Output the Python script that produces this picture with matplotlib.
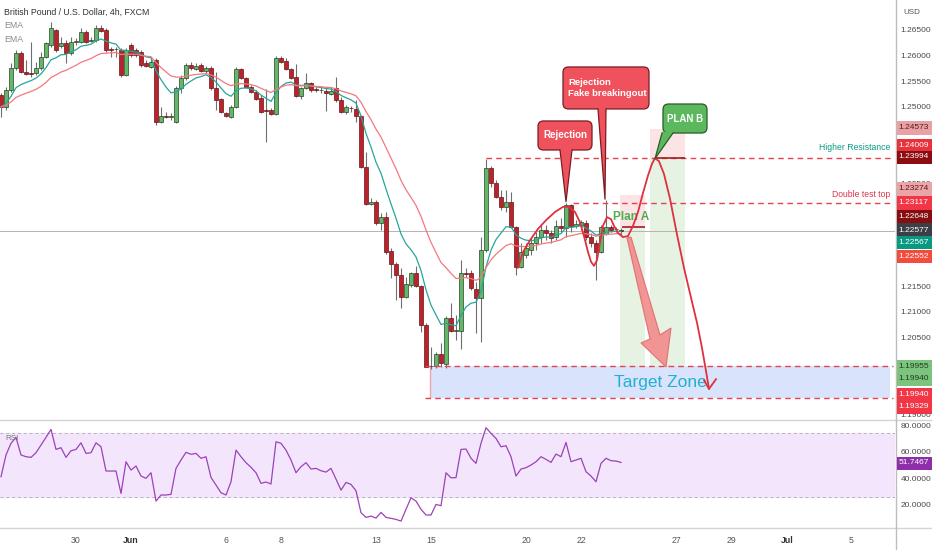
import matplotlib
matplotlib.use('Agg')
import matplotlib.pyplot as plt
import numpy as np
import pandas as pd
from matplotlib.patches import FancyBboxPatch, Polygon, Rectangle
from matplotlib.lines import Line2D

plt.rcParams['font.family'] = ['Liberation Sans', 'DejaVu Sans']

# ---- data (GBPUSD 4h) ----
opens = [
    1.2523, 1.2500, 1.2533, 1.2576, 1.2605, 1.2568, 1.2566, 1.2566, 1.2576, 1.2597,
    1.2621, 1.2650, 1.2619, 1.2625, 1.2605, 1.2627, 1.2627, 1.2646, 1.2628, 1.2630,
    1.2654, 1.2650, 1.2613, 1.2612, 1.2611, 1.2562, 1.2621, 1.2611, 1.2607, 1.2586,
    1.2578, 1.2591, 1.2471, 1.2482, 1.2481, 1.2471, 1.2537, 1.2556, 1.2582, 1.2574,
    1.2582, 1.2570, 1.2576, 1.2537, 1.2515, 1.2488, 1.2480, 1.2500, 1.2574, 1.2556,
    1.2539, 1.2529, 1.2517, 1.2494, 1.2494, 1.2486, 1.2595, 1.2590, 1.2574, 1.2558,
    1.2521, 1.2537, 1.2547, 1.2535, 1.2532, 1.2531, 1.2525, 1.2537, 1.2513, 1.2490,
    1.2498, 1.2496, 1.2482, 1.2383, 1.2311, 1.2315, 1.2274, 1.2285, 1.2219, 1.2194,
    1.2172, 1.2129, 1.2153, 1.2176, 1.2151, 1.2075, 1.1995, 1.1995, 1.2018, 1.1999,
    1.2088, 1.2063, 1.2063, 1.2176, 1.2176, 1.2145, 1.2127, 1.2221, 1.2381, 1.2352,
    1.2324, 1.2305, 1.2315, 1.2266, 1.2188, 1.2211, 1.2221, 1.2235, 1.2246, 1.2260,
    1.2254, 1.2246, 1.2268, 1.2264, 1.2309, 1.2268, 1.2270, 1.2274, 1.2246, 1.2235,
    1.2217, 1.2252, 1.2266, 1.2262, 1.2260]
highs = [
    1.2527, 1.2539, 1.2586, 1.2611, 1.2609, 1.2591, 1.2627, 1.2588, 1.2607, 1.2627,
    1.2666, 1.2652, 1.2636, 1.2630, 1.2636, 1.2634, 1.2654, 1.2650, 1.2636, 1.2660,
    1.2660, 1.2654, 1.2617, 1.2617, 1.2615, 1.2615, 1.2625, 1.2615, 1.2611, 1.2591,
    1.2597, 1.2595, 1.2500, 1.2490, 1.2488, 1.2541, 1.2562, 1.2586, 1.2588, 1.2586,
    1.2586, 1.2580, 1.2580, 1.2568, 1.2517, 1.2490, 1.2504, 1.2578, 1.2576, 1.2558,
    1.2543, 1.2533, 1.2523, 1.2535, 1.2498, 1.2599, 1.2599, 1.2595, 1.2576, 1.2584,
    1.2539, 1.2566, 1.2548, 1.2539, 1.2539, 1.2539, 1.2539, 1.2558, 1.2519, 1.2504,
    1.2502, 1.2513, 1.2484, 1.2412, 1.2322, 1.2318, 1.2293, 1.2295, 1.2225, 1.2198,
    1.2186, 1.2168, 1.2178, 1.2190, 1.2153, 1.2079, 1.2032, 1.2022, 1.2040, 1.2092,
    1.2118, 1.2094, 1.2201, 1.2186, 1.2182, 1.2159, 1.2246, 1.2399, 1.2385, 1.2358,
    1.2338, 1.2338, 1.2334, 1.2268, 1.2235, 1.2235, 1.2244, 1.2256, 1.2270, 1.2270,
    1.2260, 1.2279, 1.2283, 1.2312, 1.2310, 1.2279, 1.2279, 1.2279, 1.2254, 1.2240,
    1.2270, 1.2318, 1.2270, 1.2266, 1.2264]
lows = [
    1.2480, 1.2494, 1.2529, 1.2572, 1.2566, 1.2562, 1.2558, 1.2562, 1.2572, 1.2595,
    1.2617, 1.2607, 1.2615, 1.2586, 1.2601, 1.2621, 1.2625, 1.2625, 1.2627, 1.2627,
    1.2646, 1.2607, 1.2597, 1.2597, 1.2558, 1.2560, 1.2597, 1.2597, 1.2578, 1.2578,
    1.2576, 1.2465, 1.2469, 1.2478, 1.2474, 1.2469, 1.2527, 1.2552, 1.2572, 1.2572,
    1.2568, 1.2566, 1.2533, 1.2494, 1.2488, 1.2480, 1.2479, 1.2498, 1.2554, 1.2537,
    1.2527, 1.2513, 1.2488, 1.2432, 1.2484, 1.2484, 1.2586, 1.2572, 1.2554, 1.2519,
    1.2515, 1.2535, 1.2529, 1.2529, 1.2527, 1.2492, 1.2523, 1.2509, 1.2488, 1.2486,
    1.2490, 1.2471, 1.2381, 1.2309, 1.2309, 1.2270, 1.2260, 1.2213, 1.2166, 1.2123,
    1.2108, 1.2127, 1.2149, 1.2149, 1.2061, 1.1992, 1.1989, 1.1991, 1.1993, 1.1991,
    1.2061, 1.2045, 1.2028, 1.2168, 1.2143, 1.2059, 1.2042, 1.2217, 1.2344, 1.2322,
    1.2299, 1.2295, 1.2264, 1.2172, 1.2186, 1.2205, 1.2211, 1.2221, 1.2235, 1.2240,
    1.2235, 1.2240, 1.2256, 1.2246, 1.2256, 1.2264, 1.2260, 1.2240, 1.2227, 1.2162,
    1.2215, 1.2250, 1.2256, 1.2256, 1.2250]
closes = [
    1.2500, 1.2533, 1.2576, 1.2605, 1.2568, 1.2564, 1.2565, 1.2576, 1.2597, 1.2625,
    1.2654, 1.2611, 1.2625, 1.2605, 1.2627, 1.2628, 1.2646, 1.2627, 1.2631, 1.2654,
    1.2648, 1.2611, 1.2611, 1.2613, 1.2562, 1.2611, 1.2601, 1.2601, 1.2582, 1.2580,
    1.2588, 1.2471, 1.2482, 1.2481, 1.2482, 1.2537, 1.2556, 1.2582, 1.2576, 1.2580,
    1.2570, 1.2576, 1.2537, 1.2513, 1.2490, 1.2482, 1.2500, 1.2574, 1.2556, 1.2539,
    1.2529, 1.2515, 1.2490, 1.2492, 1.2486, 1.2595, 1.2588, 1.2574, 1.2556, 1.2521,
    1.2537, 1.2547, 1.2533, 1.2532, 1.2533, 1.2527, 1.2531, 1.2513, 1.2490, 1.2500,
    1.2497, 1.2482, 1.2383, 1.2311, 1.2315, 1.2274, 1.2285, 1.2217, 1.2194, 1.2172,
    1.2129, 1.2155, 1.2176, 1.2151, 1.2075, 1.1993, 1.1994, 1.2018, 1.2001, 1.2088,
    1.2063, 1.2065, 1.2176, 1.2174, 1.2147, 1.2127, 1.2221, 1.2381, 1.2352, 1.2324,
    1.2305, 1.2315, 1.2266, 1.2188, 1.2217, 1.2225, 1.2235, 1.2246, 1.2260, 1.2254,
    1.2244, 1.2268, 1.2264, 1.2309, 1.2268, 1.2272, 1.2276, 1.2246, 1.2235, 1.2217,
    1.2266, 1.2266, 1.2260, 1.2261, 1.22577]
rsi_values = [
    41.0, 57.4, 66.2, 70.7, 57.4, 56.1, 55.6, 59.1, 64.9, 70.7,
    76.7, 61.6, 62.9, 55.6, 60.6, 61.6, 66.6, 58.6, 59.1, 66.6,
    63.6, 45.3, 45.3, 45.3, 28.4, 52.3, 46.0, 49.1, 41.5, 39.8,
    44.0, 22.6, 27.2, 27.2, 27.7, 47.3, 53.6, 59.4, 57.9, 58.6,
    54.9, 56.1, 40.5, 34.7, 28.9, 27.2, 37.2, 61.1, 56.1, 51.6,
    48.1, 44.0, 36.0, 37.0, 35.5, 67.4, 66.2, 61.1, 53.6, 44.0,
    48.6, 51.6, 46.8, 47.3, 45.5, 44.5, 47.3, 39.2, 30.9, 36.7,
    35.2, 30.4, 13.8, 10.3, 11.3, 9.8, 14.1, 10.3, 9.6, 8.8,
    7.5, 16.4, 25.1, 22.6, 16.4, 12.1, 12.1, 20.1, 19.1, 44.0,
    40.2, 40.3, 61.6, 61.9, 54.9, 51.1, 66.2, 78.0, 73.7, 69.9,
    63.6, 64.4, 56.1, 41.5, 46.8, 47.8, 49.8, 52.3, 56.1, 54.1,
    51.8, 58.1, 56.1, 66.9, 52.3, 53.6, 54.9, 44.8, 41.5, 37.2,
    51.1, 54.9, 53.1, 52.8, 51.75]

date_labels = ['30', 'Jun', '6', '8', '13', '15', '20', '22', '27', '29', 'Jul', '5']
date_pos = [15, 26, 45, 56, 75, 86, 105, 116, 135, 146, 157.3, 170]
price_ticks = [1.19, 1.205, 1.21, 1.215, 1.235, 1.25, 1.255, 1.26, 1.265]
rsi_ticks = [20, 40, 60, 80]

higher_res = 1.23994
double_top = 1.23117
zone_top, zone_bottom = 1.19940, 1.19329
planA_stop, planA_entry, planA_target = 1.23274, 1.22648, 1.19955
planB_stop, planB_entry, planB_target = 1.24573, 1.24009, 1.19940
last_price = 1.22577
rsi_band = (26, 74)

# projected path drawn on the chart (bar, price)
path_bars = [103.4, 104.4, 105.8, 107.4, 109.0, 110.8, 112.4, 113.6, 114.8, 115.8,
             116.6, 117.4, 118.0, 118.6, 119.2, 119.8, 120.4, 121.2, 122.0, 122.6,
             123.4, 124.4, 125.4, 126.4, 127.4, 128.4, 129.4, 130.2, 130.8, 131.6,
             132.6, 133.8, 135.2, 136.6, 138.0, 139.2, 140.2, 141.0, 141.6]
path_prices = [1.2186, 1.2217, 1.2240, 1.2262, 1.2279, 1.2295, 1.2305, 1.2305, 1.2295, 1.2275,
               1.2248, 1.2217, 1.2198, 1.2190, 1.2201, 1.2235, 1.2268, 1.2285, 1.2281, 1.2268,
               1.2254, 1.2246, 1.2248, 1.2268, 1.2295, 1.2332, 1.2366, 1.2389, 1.2400, 1.2394,
               1.2369, 1.2321, 1.2251, 1.2186, 1.2128, 1.2079, 1.2030, 1.1985, 1.1950]

opens, highs, lows, closes = map(np.array, (opens, highs, lows, closes))
bars = np.arange(len(closes))

s = pd.Series(closes)
ema_fast = s.ewm(span=9, adjust=False).mean()
ema_slow = s.ewm(span=21, adjust=False).mean()

# ---- layout ----
W, H = 932, 550
fig = plt.figure(figsize=(W / 100, H / 100), dpi=100, facecolor='white')
ax = fig.add_axes([0, 130 / H, 895 / W, 420 / H])
rax = fig.add_axes([0, 22 / H, 895 / W, 108 / H])

XLIM = (-0.2, 178.8)
for a in (ax, rax):
    a.set_xlim(*XLIM)
    for sp in a.spines.values():
        sp.set_visible(False)
    a.set_facecolor('white')

ax.set_ylim(1.18894, 1.27084)
rax.set_ylim(2.3, 83.8)
ASP = 5 * 0.000195  # price per bar-width for rounded boxes

# ---- candles ----
up = closes >= opens
body_lo = np.minimum(opens, closes)
body_h = np.maximum(np.abs(closes - opens), 0.00004)
ax.vlines(bars, lows, highs, color='#6f6f6f', lw=0.8, zorder=3)
ax.bar(bars[up], body_h[up], bottom=body_lo[up], width=0.66,
       color='#62b866', edgecolor='#2c3f2c', lw=0.5, zorder=4)
ax.bar(bars[~up], body_h[~up], bottom=body_lo[~up], width=0.66,
       color='#b8232c', edgecolor='#6a1418', lw=0.5, zorder=4)

ax.plot(bars, ema_fast, color='#26a69a', lw=0.9, zorder=5)
ax.plot(bars, ema_slow, color='#f4787c', lw=0.9, zorder=5)

ax.axhline(last_price, color='#b4b4b4', lw=0.7, zorder=2)

# ---- levels ----
dash = dict(color='#e8424f', lw=1.0, linestyle=(0, (4, 3)), zorder=6)
ax.hlines(higher_res, 97, 178.4, **dash)
ax.hlines(double_top, 114.4, 178.4, **dash)
ax.hlines([zone_top, zone_bottom], 84.8, 178.4, **dash)
ax.add_patch(Rectangle((85.8, zone_bottom), 92.0, zone_top - zone_bottom,
                       fc='#d9e4fc', ec='none', zorder=1))
ax.vlines(85.8, zone_bottom, zone_top, color='#f4a3ab', lw=1, zorder=2)
ax.text(131.8, (zone_top + zone_bottom) / 2, 'Target Zone', color='#1fb0d3',
        fontsize=12.5, ha='center', va='center', zorder=7)
ax.text(177.8, 1.2420, 'Higher Resistance', color='#089981', fontsize=6.2,
        ha='right', va='center', zorder=7)
ax.text(177.8, 1.2330, 'Double test top', color='#e0334a', fontsize=6.2,
        ha='right', va='center', zorder=7)

# ---- position boxes ----
ax.add_patch(Rectangle((123.8, planA_entry), 5, planA_stop - planA_entry, fc='#fce3e5', ec='none', zorder=1))
ax.add_patch(Rectangle((123.8, planA_target), 5, planA_entry - planA_target, fc='#e6f3e3', ec='none', zorder=1))
ax.add_patch(Rectangle((129.8, planB_entry), 7, planB_stop - planB_entry, fc='#fce3e5', ec='none', zorder=1))
ax.add_patch(Rectangle((129.8, planB_target), 7, planB_entry - planB_target, fc='#e6f3e3', ec='none', zorder=1))
ax.hlines(planA_entry, 124.2, 128.8, color='#a01c22', lw=1.2, zorder=6)
ax.hlines(planB_entry, 130.8, 136.8, color='#a01c22', lw=1.2, zorder=6)
ax.text(122.4, 1.2285, 'Plan A', color='#4caf50', fontsize=8.5, fontweight='bold',
        ha='left', va='center', zorder=7)

# ---- big arrow ----
arrow_pts = [(125.2, 1.22443), (126.0, 1.22462), (131.8, 1.20552), (134.0, 1.20688),
             (133.0, 1.19928), (128.0, 1.20396), (129.8, 1.20474)]
ax.add_patch(Polygon(arrow_pts, closed=True, fc='#f28b8b', ec='#e06a6a', lw=0.8,
                     alpha=0.9, zorder=6))

# ---- projected path ----
ax.plot(path_bars, path_prices, color='#e0303e', lw=1.3, zorder=7,
        solid_joinstyle='round', solid_capstyle='round')
ax.plot([140.6, path_bars[-1], 143.0], [1.1967, path_prices[-1], 1.1969],
        color='#e0303e', lw=1.3, zorder=7)


def callout(x0, x1, y0, y1, b0, b1, tip, text, fc, ec, ha='center', tx=None, fs=7):
    ax.add_patch(FancyBboxPatch((x0, y0), x1 - x0, y1 - y0,
                                boxstyle='round,pad=0,rounding_size=1.1',
                                mutation_aspect=ASP, fc=fc, ec=ec, lw=0.9, zorder=8))
    eps = 0.00025
    ax.add_patch(Polygon([(b0, y0 + eps), (b0, y0), tip, (b1, y0), (b1, y0 + eps)],
                         closed=True, fc=fc, ec='none', zorder=8.5))
    ax.plot([b0, tip[0], b1], [y0, tip[1], y0], color=ec, lw=0.9, zorder=8.6)
    if tx is None:
        tx = (x0 + x1) / 2
    ax.text(tx, (y0 + y1) / 2, text, color='white', fontsize=fs,
            fontweight='bold', ha=ha, va='center', zorder=9, linespacing=1.3)


callout(107.4, 118.2, 1.24159, 1.24725, 111.8, 114.2, (113.0, 1.2315),
        'Rejection', '#f0525d', '#7a1c22', fs=7)
callout(112.4, 129.6, 1.24959, 1.25778, 119.4, 121.0, (120.8, 1.2320),
        'Rejection\nFake breakingout', '#f0525d', '#7a1c22', ha='left', tx=113.4, fs=6.8)
callout(132.4, 141.2, 1.24490, 1.25056, 132.2, 134.4, (130.8, 1.2399),
        'PLAN B', '#5cb85c', '#2a5a2a', fs=7)

# ---- axes ticks ----
ax.set_xticks([])
ax.yaxis.tick_right()
ax.set_yticks(price_ticks)
ax.set_yticklabels([f'{v:.5f}' for v in price_ticks])
ax.tick_params(axis='y', length=0, pad=4, labelsize=6, labelcolor='#4a4a4a')

# ---- RSI ----
rax.axhspan(*rsi_band, color='#f3e6fc', zorder=0)
for lvl in rsi_band:
    rax.axhline(lvl, color='#b5b5b5', lw=0.7, linestyle=(0, (3, 3)), zorder=1)
rax.plot(bars, rsi_values, color='#9c42b8', lw=0.9, zorder=3)
rax.yaxis.tick_right()
rax.set_yticks(rsi_ticks)
rax.set_yticklabels([f'{v:.4f}' for v in rsi_ticks])
rax.tick_params(axis='y', length=0, pad=4, labelsize=6, labelcolor='#4a4a4a')
rax.set_xticks(date_pos)
rax.set_xticklabels(date_labels)
rax.tick_params(axis='x', length=0, pad=6, labelsize=6.3, labelcolor='#555555')
for lab in rax.get_xticklabels():
    if lab.get_text() in ('Jun', 'Jul'):
        lab.set_fontweight('bold')
        lab.set_color('#333333')
rax.text(0.006, 0.83, 'RSI', transform=rax.transAxes, fontsize=5.8,
         color='#777777', va='center')

# ---- frame lines ----
for row in (420, 528):
    fig.add_artist(Line2D([0, 1], [1 - row / H] * 2, transform=fig.transFigure,
                          color='#d4d4d4', lw=1))
fig.add_artist(Line2D([895.5 / W] * 2, [0, 1], transform=fig.transFigure,
                      color='#bdbdbd', lw=1))

# ---- header ----
fig.text(4 / W, 1 - 12 / H, 'British Pound / U.S. Dollar, 4h, FXCM', fontsize=6.3,
         color='#333333', va='center')
fig.text(4 / W, 1 - 25.5 / H, 'EMA', fontsize=6.3, color='#8a8a8a', va='center')
fig.text(4 / W, 1 - 39.5 / H, 'EMA', fontsize=6.3, color='#8a8a8a', va='center')
fig.text(903 / W, 1 - 12 / H, 'USD', fontsize=5.8, color='#555555', va='center')

# ---- price tags on the scale ----
tag_text = ['1.24573', '1.24009', '1.23994', '1.23274', '1.23117', '1.22648', '1.22577',
            '1.22567', '1.22552', '1.19955', '1.19940', '1.19940', '1.19329', '51.7467']
tag_rows = [128, 145.7, 157, 189, 203, 216.7, 230, 242.7, 256.7, 366.7, 379, 394, 407, 463]
tag_face = ['#e8a2a6', '#e8323c', '#8c0c10', '#eba4a8', '#f23645', '#860d10', '#3d3f48',
            '#089981', '#f24c3d', '#7cc47e', '#7cc47e', '#f23645', '#f23645', '#8e2ea8']
tag_ink = ['#5a1a1a', 'white', 'white', '#5a1a1a', 'white', 'white', 'white',
           'white', 'white', '#1d3d1d', '#1d3d1d', 'white', 'white', 'white']
for t, r, fc, ink in zip(tag_text, tag_rows, tag_face, tag_ink):
    fig.add_artist(Rectangle((896.5 / W, 1 - (r + 6.5) / H), 35 / W, 13 / H,
                             transform=fig.transFigure, fc=fc, ec='none', zorder=5))
    fig.text(913.5 / W, 1 - r / H, t, fontsize=6, color=ink, ha='center',
             va='center', zorder=6)

fig.savefig('out.png', dpi=100, facecolor='white')
